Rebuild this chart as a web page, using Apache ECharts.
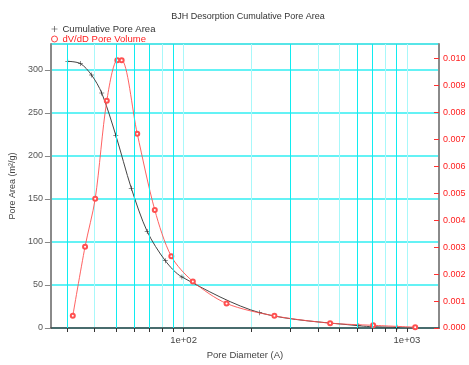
<!DOCTYPE html>
<html><head><meta charset="utf-8">
<script src="https://cdn.jsdelivr.net/npm/echarts@6/dist/echarts.min.js"></script>
<style>html,body{margin:0;padding:0;background:#fff}#c{width:469px;height:365px}</style>
</head><body><div id="c"></div>
<script>
// Cumulative pore area (left axis, m²/g) vs pore diameter (Å)
const areaDiam = [30.3, 34.5, 38.7, 43.0, 49.7, 58.3, 68.7, 82.8, 98.3, 219, 609, 903];
const areaVals = [309.9, 307.3, 294, 273, 224, 162.5, 112.2, 78.2, 59.3, 17.8, 2.6, 0.8];
// dV/dD pore volume (right axis)
const volDiam = [31.9, 36.2, 40.2, 45.3, 50.5, 52.8, 62.0, 74.3, 88.1, 110, 155.7, 255, 453, 706, 1089];
const volVals = [0.00045, 0.00302, 0.0048, 0.00843, 0.00994, 0.00994, 0.00721, 0.00438, 0.00266, 0.00173, 0.00091, 0.00045, 0.00018, 0.0001, 0.00003];
// axis ticks / grid
const xGridValues = [30, 40, 50, 60, 70, 80, 90, 100, 200, 300, 400, 500, 600, 700, 800, 900, 1000];
const xLabelValues = [100, 1000];
const xGridStrong = [30, 50, 60, 70, 90, 300, 600, 700, 900];

const chart = echarts.init(document.getElementById('c'));
const FONT = 'Liberation Sans, Arial, sans-serif';
const plusPath = 'path://M4.5,0H5.5V4.5H10V5.5H5.5V10H4.5V5.5H0V4.5H4.5Z';

chart.setOption({
  animation: false,
  textStyle: { fontFamily: FONT },
  title: {
    text: 'BJH Desorption Cumulative Pore Area',
    left: 243, top: 7, textAlign: 'center',
    textStyle: { fontSize: 9, fontWeight: 'normal', color: '#333', fontFamily: FONT }
  },
  legend: {
    orient: 'vertical', left: 51, top: 24, itemGap: 0, padding: 0,
    itemWidth: 6, itemHeight: 6,
    lineStyle: { width: 0 },
    textStyle: { fontSize: 9.5, fontFamily: FONT },
    data: [
      { name: 'Cumulative Pore Area', icon: plusPath, itemStyle: { color: '#333' }, textStyle: { color: '#333' } },
      { name: 'dV/dD Pore Volume', icon: 'circle', itemStyle: { color: '#fff', borderColor: '#ff4040', borderWidth: 1 }, textStyle: { color: '#ff2020' } }
    ]
  },
  grid: { left: 48, right: 30, top: 44, bottom: 30, show: true, borderColor: '#999', borderWidth: 1, backgroundColor: 'transparent' },
  xAxis: {
    type: 'log', logBase: 10, min: 25.46, max: 1392,
    name: 'Pore Diameter (A)', nameLocation: 'middle', nameGap: 22,
    nameTextStyle: { fontSize: 9.5, color: '#444', fontFamily: FONT },
    axisLine: { show: true, lineStyle: { color: '#444', width: 1.5 } },
    axisTick: { show: true, customValues: xGridValues, length: 4, lineStyle: { color: '#333' } },
    axisLabel: {
      customValues: xLabelValues, fontSize: 9.5, color: '#444', margin: 7,
      formatter: v => '1e+0' + Math.round(Math.log10(v))
    },
    splitLine: { show: true, lineStyle: { color: '#a8f8fa', width: 1 } }
  },
  yAxis: [
    {
      type: 'value', min: 0, max: 330, interval: 50, position: 'left',
      name: 'Pore Area (m²/g)', nameLocation: 'middle', nameGap: 31,
      nameTextStyle: { fontSize: 9, color: '#444', fontFamily: FONT },
      axisLine: { show: true, lineStyle: { color: '#8a8a8a', width: 2 } },
      axisTick: { show: true, inside: false, length: 6, lineStyle: { color: '#888' } },
      axisLabel: { fontSize: 9, color: '#555', margin: 8, showMaxLabel: false },
      splitLine: { show: true, lineStyle: { color: '#30eef2', width: 1.5 } }
    },
    {
      type: 'value', min: 0, max: 0.01054, interval: 0.001, position: 'right',
      axisLine: { show: true, lineStyle: { color: '#8a8a8a', width: 2 } },
      axisTick: { show: true, inside: true, length: 5, lineStyle: { color: '#ff3030' } },
      axisLabel: { fontSize: 9, color: '#ff2020', margin: 4, showMaxLabel: false, formatter: v => v.toFixed(3) },
      splitLine: { show: false }
    }
  ],
  series: [
    {
      name: 'Cumulative Pore Area', type: 'line', xAxisIndex: 0, yAxisIndex: 0,
      data: areaDiam.map((d, i) => [d, areaVals[i]]),
      smooth: 0.3,
      symbol: plusPath, symbolSize: 5,
      lineStyle: { color: '#444', width: 1 },
      itemStyle: { color: '#222' },
      markLine: {
        silent: true, symbol: 'none', animation: false,
        label: { show: false },
        lineStyle: { color: '#10ecf0', width: 1, type: 'solid' },
        emphasis: { disabled: true },
        data: xGridStrong.map(v => ({ xAxis: v }))
      },
      z: 3
    },
    {
      name: 'dV/dD Pore Volume', type: 'line', xAxisIndex: 0, yAxisIndex: 1,
      data: volDiam.map((d, i) => [d, volVals[i]]),
      smooth: 0.3,
      symbol: 'emptyCircle', symbolSize: 4,
      lineStyle: { color: '#ff5050', width: 0.9 },
      itemStyle: { color: '#ff5050', borderColor: '#ff5050', borderWidth: 0.9 },
      z: 4
    }
  ]
});
</script>
</body></html>
